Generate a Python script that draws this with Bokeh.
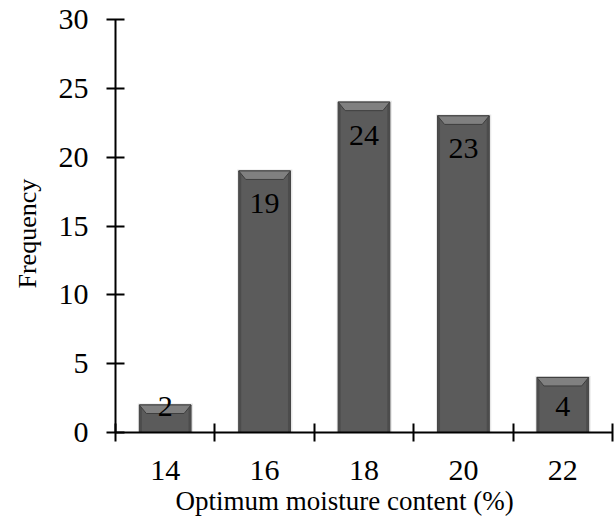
from bokeh.plotting import figure
from bokeh.models import ColumnDataSource, FixedTicker, Range1d, Title
from bokeh.core.properties import value
from bokeh.embed import file_html
from bokeh.resources import INLINE

# Frequency of optimum moisture content classes
moisture = [14, 16, 18, 20, 22]
frequency = [2, 19, 24, 23, 4]
y_ticks = [0, 5, 10, 15, 20, 25, 30]
class_edges = [13, 15, 17, 19, 21, 23]

FONT = "Liberation Serif"
BAR_HALF = 0.52
BEVEL_X = 0.14
BEVEL_Y = 0.62
FRAME_W, FRAME_H = 498, 413
Y_MAX = 30
PX_PER_UNIT = FRAME_H / Y_MAX

p = figure(width=614, height=526, output_backend="svg", toolbar_location=None,
           x_range=Range1d(13, 23), y_range=Range1d(0, Y_MAX),
           min_border_left=114, min_border_right=2,
           min_border_top=19, min_border_bottom=94)
p.outline_line_color = None
p.grid.visible = False
p.background_fill_color = "white"
p.border_fill_color = "white"

left = [m - BAR_HALF for m in moisture]
right = [m + BAR_HALF for m in moisture]

# faint shadow just around each bar
p.quad(left=[l - 0.03 for l in left], right=[r + 0.04 for r in right],
       bottom=0, top=[f + 0.1 for f in frequency],
       fill_color="#b0b0b0", fill_alpha=0.3, line_color=None)

# bar bodies
src = ColumnDataSource(dict(x=moisture, f=frequency, left=left, right=right))
p.quad(left="left", right="right", bottom=0, top="f", source=src,
       fill_color="#5b5b5b", line_color="#3e3e3e", line_width=1)

# darker side edges
p.quad(left=left, right=[l + 0.05 for l in left], bottom=0, top=frequency,
       fill_color="#4c4c4c", line_color=None)
p.quad(left=[r - 0.05 for r in right], right=right, bottom=0, top=frequency,
       fill_color="#4c4c4c", line_color=None)

# bevelled tops
xs, ys = [], []
for l, r, f in zip(left, right, frequency):
    xs.append([l, r, r - BEVEL_X, l + BEVEL_X])
    ys.append([f, f, f - BEVEL_Y, f - BEVEL_Y])
p.patches(xs, ys, fill_color="#808080", line_color="#3e3e3e", line_width=1)

# value labels just inside the bar ends
offsets = [min(33, f * PX_PER_UNIT - 26) for f in frequency]
lab = ColumnDataSource(dict(x=moisture, y=frequency, t=[str(f) for f in frequency],
                            off=offsets))
p.text(x="x", y="y", text="t", y_offset="off", source=lab,
       text_font=value(FONT), text_font_size="30px", text_color="black",
       text_align="center", text_baseline="middle")

# y axis
ya = p.yaxis[0]
ya.ticker = FixedTicker(ticks=y_ticks)
ya.axis_line_width = 2
ya.axis_line_color = "black"
ya.major_tick_in = 9
ya.major_tick_out = 9
ya.major_tick_line_width = 2
ya.minor_tick_line_color = None
ya.major_label_standoff = 18
ya.major_label_text_font = FONT
ya.major_label_text_font_size = "30px"
ya.major_label_text_color = "black"

# x axis: labels at class centres, tick marks at class edges
xa = p.xaxis[0]
xa.ticker = FixedTicker(ticks=moisture, minor_ticks=class_edges)
xa.axis_line_width = 2
xa.axis_line_color = "black"
xa.major_tick_in = 0
xa.major_tick_out = 0
xa.minor_tick_in = 9
xa.minor_tick_out = 9
xa.minor_tick_line_width = 2
xa.minor_tick_line_color = "black"
xa.major_label_standoff = 19
xa.major_label_text_font = FONT
xa.major_label_text_font_size = "30px"
xa.major_label_text_color = "black"

# axis titles
p.add_layout(Title(text="Optimum moisture content (%)", align="left", offset=60,
                   text_font=FONT, text_font_size="27px", text_font_style="normal",
                   text_color="black", standoff=3), "below")
p.add_layout(Title(text="Frequency", align="left", offset=144,
                   vertical_align="top", text_line_height=1.0,
                   text_font=FONT, text_font_size="26px", text_font_style="normal",
                   text_color="black", standoff=24), "left")

open("out.html", "w").write(file_html(p, INLINE))
